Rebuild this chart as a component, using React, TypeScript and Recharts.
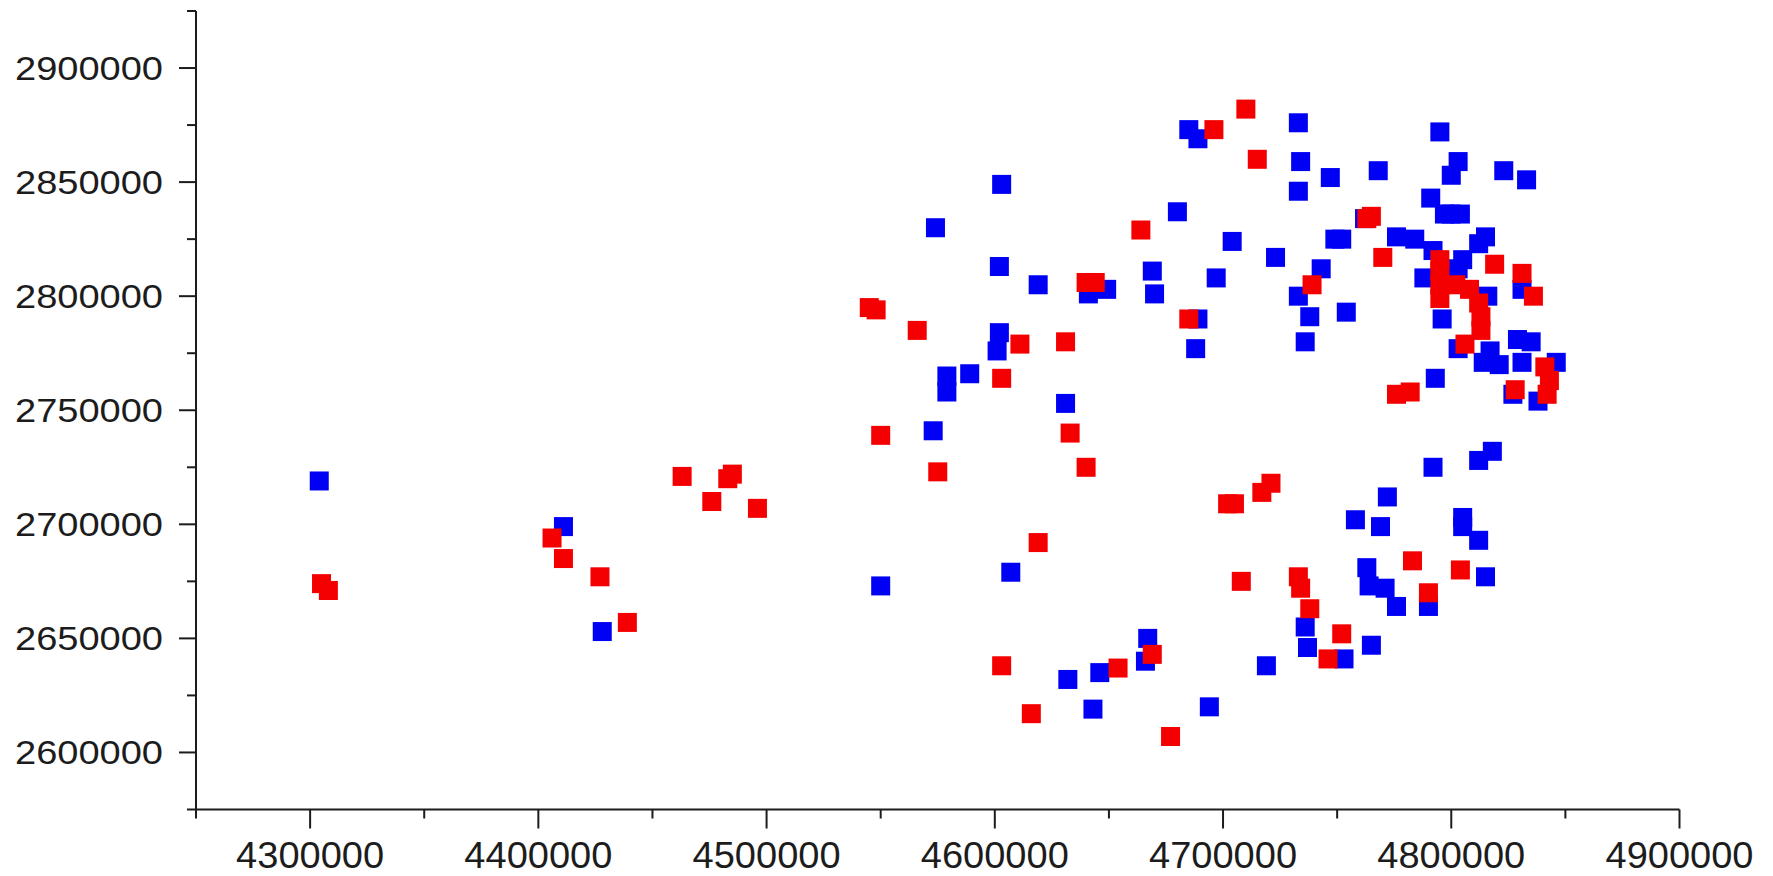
import { Scatter, ScatterChart, XAxis, YAxis } from "recharts";

// easting / northing of the two point sets
const blueEast = [
  4304000, 4411000, 4428000, 4550000, 4574000, 4573000, 4579000, 4579000, 4589000, 4603000,
  4602000, 4602000, 4601000, 4607000, 4619000, 4632000, 4631000, 4641000, 4649000, 4643000,
  4646000, 4669000, 4670000, 4667000, 4666000, 4680000, 4689000, 4688000, 4685000, 4689000,
  4697000, 4704000, 4694000, 4719000, 4723000, 4733000, 4734000, 4733000, 4733000, 4738000,
  4736000, 4743000, 4747000, 4749000, 4752000, 4754000, 4736000, 4737000, 4753000, 4768000,
  4762000, 4776000, 4784000, 4791000, 4795000, 4797000, 4800000, 4804000, 4800000, 4803000,
  4823000, 4833000, 4815000, 4812000, 4788000, 4792000, 4803000, 4805000, 4796000, 4816000,
  4831000, 4803000, 4817000, 4814000, 4829000, 4835000, 4831000, 4821000, 4846000, 4838000,
  4827000, 4793000, 4792000, 4812000, 4818000, 4772000, 4758000, 4769000, 4805000, 4805000,
  4812000, 4815000, 4763000, 4764000, 4771000, 4776000, 4790000, 4765000,
];
const blueNorth = [
  2719000, 2699000, 2653000, 2673000, 2830000, 2741000, 2765000, 2758000, 2766000, 2849000,
  2813000, 2784000, 2776000, 2679000, 2805000, 2632000, 2753000, 2801000, 2803000, 2619000,
  2635000, 2811000, 2801000, 2650000, 2640000, 2837000, 2790000, 2777000, 2873000, 2869000,
  2808000, 2824000, 2620000, 2638000, 2817000, 2876000, 2859000, 2846000, 2800000, 2791000,
  2780000, 2812000, 2852000, 2825000, 2825000, 2793000, 2655000, 2646000, 2641000, 2855000,
  2834000, 2826000, 2825000, 2843000, 2872000, 2836000, 2836000, 2836000, 2853000, 2859000,
  2855000, 2851000, 2826000, 2823000, 2808000, 2820000, 2812000, 2816000, 2790000, 2800000,
  2803000, 2777000, 2776000, 2771000, 2781000, 2780000, 2771000, 2770000, 2771000, 2754000,
  2757000, 2764000, 2725000, 2728000, 2732000, 2712000, 2702000, 2699000, 2703000, 2699000,
  2693000, 2677000, 2681000, 2673000, 2672000, 2664000, 2664000, 2647000,
];
const redEast = [
  4305000, 4308000, 4406000, 4411000, 4427000, 4439000, 4463000, 4476000, 4483000, 4485000,
  4496000, 4545000, 4548000, 4550000, 4566000, 4575000, 4603000, 4611000, 4619000, 4631000,
  4633000, 4640000, 4640000, 4644000, 4603000, 4616000, 4654000, 4664000, 4669000, 4677000,
  4685000, 4696000, 4710000, 4715000, 4702000, 4705000, 4708000, 4717000, 4721000, 4739000,
  4733000, 4734000, 4738000, 4752000, 4746000, 4763000, 4765000, 4770000, 4776000, 4782000,
  4783000, 4790000, 4804000, 4795000, 4795000, 4795000, 4795000, 4802000, 4808000, 4812000,
  4813000, 4813000, 4806000, 4819000, 4831000, 4836000, 4841000, 4843000, 4842000, 4828000,
];
const redNorth = [
  2674000, 2671000, 2694000, 2685000, 2677000, 2657000, 2721000, 2710000, 2720000, 2722000,
  2707000, 2795000, 2794000, 2739000, 2785000, 2723000, 2764000, 2779000, 2692000, 2780000,
  2740000, 2725000, 2806000, 2806000, 2638000, 2617000, 2637000, 2829000, 2643000, 2607000,
  2790000, 2873000, 2882000, 2860000, 2709000, 2709000, 2675000, 2714000, 2718000, 2805000,
  2677000, 2672000, 2663000, 2652000, 2641000, 2834000, 2835000, 2817000, 2757000, 2758000,
  2684000, 2670000, 2680000, 2816000, 2811000, 2805000, 2799000, 2805000, 2803000, 2797000,
  2791000, 2785000, 2779000, 2814000, 2810000, 2800000, 2769000, 2763000, 2757000, 2759000,
];

// every tick position; labelled ones are the majors
const xTicks = [
  4250000, 4300000, 4350000, 4400000, 4450000, 4500000, 4550000,
  4600000, 4650000, 4700000, 4750000, 4800000, 4850000, 4900000,
];
const yTicks = [
  2575000, 2600000, 2625000, 2650000, 2675000, 2700000, 2725000, 2750000,
  2775000, 2800000, 2825000, 2850000, 2875000, 2900000, 2925000,
];

const blueData = blueEast.map((x, i) => ({ x, y: blueNorth[i] }));
const redData = redEast.map((x, i) => ({ x, y: redNorth[i] }));

const INK = "#1c1c1c";
const FONT = '"Liberation Sans", Arial, sans-serif';
const SIDE = 19;

const square = (fill: string) => (p: any) =>
  <rect x={p.cx - SIDE / 2} y={p.cy - SIDE / 2} width={SIDE} height={SIDE} fill={fill} />;

function XTick(props: any) {
  const { x, y, payload } = props;
  const major = payload.value % 100000 === 0;
  return (
    <g>
      <line x1={x} x2={x} y1={y} y2={y + (major ? 19 : 9)} stroke={INK} strokeWidth={2} />
      {major && (
        <text x={x} y={y + 58} textAnchor="middle" fontSize={36} fontFamily={FONT} fill={INK}
          textLength={148} lengthAdjust="spacingAndGlyphs">
          {payload.value}
        </text>
      )}
    </g>
  );
}

function YTick(props: any) {
  const { x, y, payload } = props;
  const major = payload.value % 50000 === 0;
  return (
    <g>
      <line x1={x - (major ? 17 : 9)} x2={x} y1={y} y2={y} stroke={INK} strokeWidth={2} />
      {major && (
        <text x={x - 33} y={y + 12} textAnchor="end" fontSize={33} fontFamily={FONT} fill={INK}
          textLength={148} lengthAdjust="spacingAndGlyphs">
          {payload.value}
        </text>
      )}
    </g>
  );
}

export default function App() {
  return (
    <div style={{ width: 1773, height: 876, background: "#fff" }}>
      <style>{"body{margin:0}"}</style>
      <ScatterChart width={1773} height={876} margin={{ top: 11, right: 93.5, bottom: 0, left: 0 }}>
        <XAxis type="number" dataKey="x" domain={[4250000, 4900000]} ticks={xTicks} interval={0}
          height={66.5} tickSize={0} tickMargin={0} tickLine={false} tick={<XTick />}
          axisLine={{ stroke: INK, strokeWidth: 2 }} />
        <YAxis type="number" dataKey="y" domain={[2575000, 2925000]} ticks={yTicks} interval={0}
          width={196} tickSize={0} tickMargin={0} tickLine={false} tick={<YTick />}
          axisLine={{ stroke: INK, strokeWidth: 2 }} />
        <Scatter data={blueData} fill="#0000ff" shape={square("#0000f4")} isAnimationActive={false} />
        <Scatter data={redData} fill="#ff0000" shape={square("#f40000")} isAnimationActive={false} />
      </ScatterChart>
    </div>
  );
}
